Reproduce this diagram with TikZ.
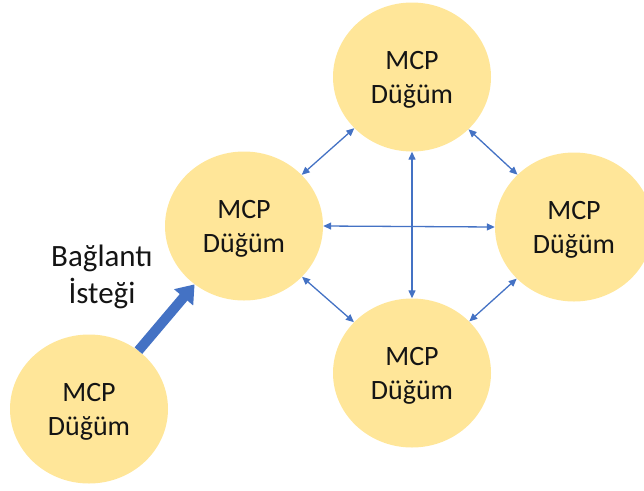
\documentclass[tikz,border=0pt]{standalone}
\usepackage{fontspec}
\setmainfont{Carlito}
\usetikzlibrary{shapes.geometric,arrows.meta}
\definecolor{nodefill}{RGB}{255,230,153}
\definecolor{linkblue}{RGB}{68,114,196}
\begin{document}
\begin{tikzpicture}[x=1pt,y=-1pt,
  mcpnode/.style={ellipse,fill=nodefill,draw=none,inner sep=0pt,
    minimum width=158pt,minimum height=149pt,align=center,text depth=0pt,
    font=\fontsize{28pt}{34pt}\selectfont,text=black!92},
  peerlink/.style={draw=linkblue,line width=1.3pt,
    {Triangle[length=8pt,width=7pt]}-{Triangle[length=8pt,width=7pt]}},
  joinlink/.style={draw=linkblue,line width=10pt,
    -{Triangle[length=17pt,width=24pt]}}]
  \clip (0,0) rectangle (644,490);
  \useasboundingbox (0,0) rectangle (644,490);

  % the four peers and the newcomer
  \node[mcpnode] (top)    at (412,77)  {MCP\\Düğüm};
  \node[mcpnode] (left)   at (244,226) {MCP\\Düğüm};
  \node[mcpnode] (right)  at (574,227) {MCP\\Düğüm};
  \node[mcpnode] (bottom) at (412,373) {MCP\\Düğüm};
  \node[mcpnode] (new)    at (89,409)  {MCP\\Düğüm};

  % links between the peers
  \draw[peerlink] (left) -- (top);
  \draw[peerlink] (top) -- (right);
  \draw[peerlink] (left) -- (bottom);
  \draw[peerlink] (bottom) -- (right);
  \draw[peerlink] (left.east) -- (right.west);
  \draw[peerlink] (top.south) -- (bottom.north);

  % connection request from the newcomer
  \draw[joinlink] (new) -- (left);
  \node[align=center,font=\fontsize{31pt}{37pt}\selectfont,text=black!92,inner sep=0pt]
    (req) at (102,277) {Bağlantı\\İsteği};
\end{tikzpicture}
\end{document}
